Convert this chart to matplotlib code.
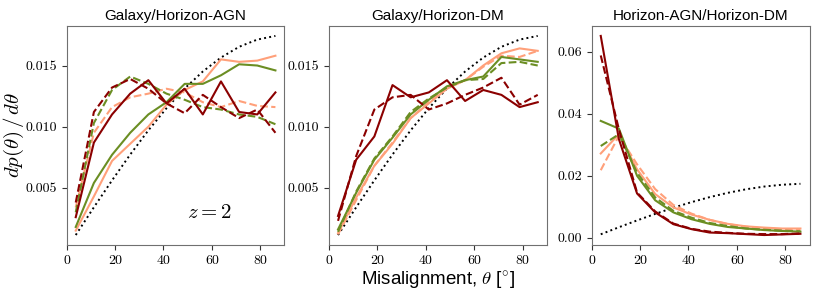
import matplotlib
matplotlib.use('Agg')
import matplotlib.pyplot as plt
import numpy as np

plt.rcParams['font.family'] = 'serif'
plt.rcParams['font.serif'] = ['cmr10']
plt.rcParams['mathtext.fontset'] = 'cm'
plt.rcParams['axes.unicode_minus'] = False

# bin centres (degrees)
theta = [3.75, 11.25, 18.75, 26.25, 33.75, 41.25, 48.75, 56.25, 63.75, 71.25, 78.75, 86.25]
# isotropic reference
iso = [0.00114, 0.00341, 0.00561, 0.00772, 0.00970, 0.01151, 0.01312, 0.01451, 0.01565, 0.01653, 0.01712, 0.01742]

titles = ['Galaxy/Horizon-AGN', 'Galaxy/Horizon-DM', 'Horizon-AGN/Horizon-DM']

# panel 1: Galaxy/Horizon-AGN
p1_salmon = [0.0015, 0.0043, 0.0072, 0.0086, 0.0100, 0.0118, 0.0130, 0.0137, 0.0155, 0.0153, 0.0154, 0.0158]
p1_salmon_d = [0.0034, 0.0095, 0.0116, 0.0124, 0.0127, 0.0131, 0.0128, 0.0120, 0.0116, 0.0121, 0.0117, 0.0116]
p1_green = [0.0018, 0.0054, 0.0077, 0.0095, 0.0110, 0.0120, 0.0135, 0.0135, 0.0142, 0.0151, 0.0150, 0.0146]
p1_green_d = [0.0030, 0.0103, 0.0130, 0.0141, 0.0135, 0.0127, 0.0122, 0.0116, 0.0114, 0.0110, 0.0108, 0.0102]
p1_red = [0.0026, 0.0087, 0.0110, 0.0127, 0.0138, 0.0119, 0.0131, 0.0110, 0.0137, 0.0112, 0.0110, 0.0128]
p1_red_d = [0.0038, 0.0112, 0.0132, 0.0139, 0.0131, 0.0119, 0.0111, 0.0126, 0.0116, 0.0107, 0.0114, 0.0095]

# panel 2: Galaxy/Horizon-DM
p2_salmon = [0.0013, 0.0042, 0.0068, 0.0086, 0.0107, 0.0119, 0.0131, 0.0138, 0.0150, 0.0160, 0.0164, 0.0162]
p2_salmon_d = [0.0012, 0.0040, 0.0068, 0.0087, 0.0107, 0.0120, 0.0132, 0.0138, 0.0149, 0.0158, 0.0157, 0.0162]
p2_green = [0.0016, 0.0046, 0.0073, 0.0091, 0.0110, 0.0122, 0.0133, 0.0138, 0.0141, 0.0157, 0.0155, 0.0153]
p2_green_d = [0.0014, 0.0047, 0.0074, 0.0092, 0.0112, 0.0123, 0.0132, 0.0138, 0.0139, 0.0152, 0.0153, 0.0150]
p2_red = [0.0027, 0.0073, 0.0092, 0.0134, 0.0124, 0.0128, 0.0138, 0.0121, 0.0130, 0.0126, 0.0116, 0.0120]
p2_red_d = [0.0023, 0.0076, 0.0114, 0.0124, 0.0126, 0.0114, 0.0119, 0.0126, 0.0132, 0.0140, 0.0118, 0.0126]

# panel 3: Horizon-AGN/Horizon-DM
p3_salmon = [0.0272, 0.0334, 0.0221, 0.0141, 0.0098, 0.0075, 0.0058, 0.0045, 0.0037, 0.0033, 0.0030, 0.0030]
p3_salmon_d = [0.0218, 0.0329, 0.0237, 0.0157, 0.0106, 0.0078, 0.0058, 0.0044, 0.0036, 0.0030, 0.0028, 0.0027]
p3_green = [0.0377, 0.0352, 0.0200, 0.0121, 0.0082, 0.0060, 0.0045, 0.0035, 0.0030, 0.0025, 0.0022, 0.0020]
p3_green_d = [0.0296, 0.0334, 0.0210, 0.0130, 0.0087, 0.0065, 0.0048, 0.0038, 0.0030, 0.0026, 0.0023, 0.0021]
p3_red = [0.0651, 0.0318, 0.0143, 0.0082, 0.0044, 0.0028, 0.0017, 0.0015, 0.0012, 0.0009, 0.0011, 0.0013]
p3_red_d = [0.0588, 0.0350, 0.0146, 0.0085, 0.0046, 0.0029, 0.0020, 0.0016, 0.0013, 0.0012, 0.0012, 0.0014]

panels = [
    (p1_salmon, p1_salmon_d, p1_green, p1_green_d, p1_red, p1_red_d),
    (p2_salmon, p2_salmon_d, p2_green, p2_green_d, p2_red, p2_red_d),
    (p3_salmon, p3_salmon_d, p3_green, p3_green_d, p3_red, p3_red_d),
]

salmon = '#ffa07a'
green = '#6b8e23'
red = '#8b0000'
sans = ['Liberation Sans', 'DejaVu Sans']

fig = plt.figure(figsize=(8.22, 2.94), dpi=100)
lefts = [0.0811, 0.4002, 0.7198]
axes = [fig.add_axes([l, 0.1667, 0.265, 0.745]) for l in lefts]

for ax, title, data in zip(axes, titles, panels):
    s, sd, g, gd, r, rd = data
    ax.plot(theta, iso, color='k', ls=':', lw=1.4)
    ax.plot(theta, s, color=salmon, lw=1.5)
    ax.plot(theta, sd, color=salmon, ls='--', lw=1.5)
    ax.plot(theta, g, color=green, lw=1.5)
    ax.plot(theta, gd, color=green, ls='--', lw=1.5)
    ax.plot(theta, r, color=red, lw=1.5)
    ax.plot(theta, rd, color=red, ls='--', lw=1.5)
    ax.set_xlim(0, 90)
    ax.set_xticks([0, 20, 40, 60, 80])
    ax.set_title(title, family=sans, fontsize=11, pad=4)
    for sp in ax.spines.values():
        sp.set_color('#707070')
    ax.tick_params(labelsize=10, colors='#333333', labelcolor='k')

axes[0].set_yticks([0.005, 0.010, 0.015])
axes[1].set_yticks([0.005, 0.010, 0.015])

fig.text(0.017, 0.54, r'$dp(\theta)\,/\,d\theta$', fontsize=15, rotation=90, ha='center', va='center')
axes[1].set_xlabel(r'Misalignment, $\theta$ [$^{\circ}$]', family=sans, fontsize=13.5, labelpad=2)
axes[0].text(0.554, 0.146, r'$z = 2$', transform=axes[0].transAxes, fontsize=15, va='center')

fig.savefig('out.png', dpi=100)
